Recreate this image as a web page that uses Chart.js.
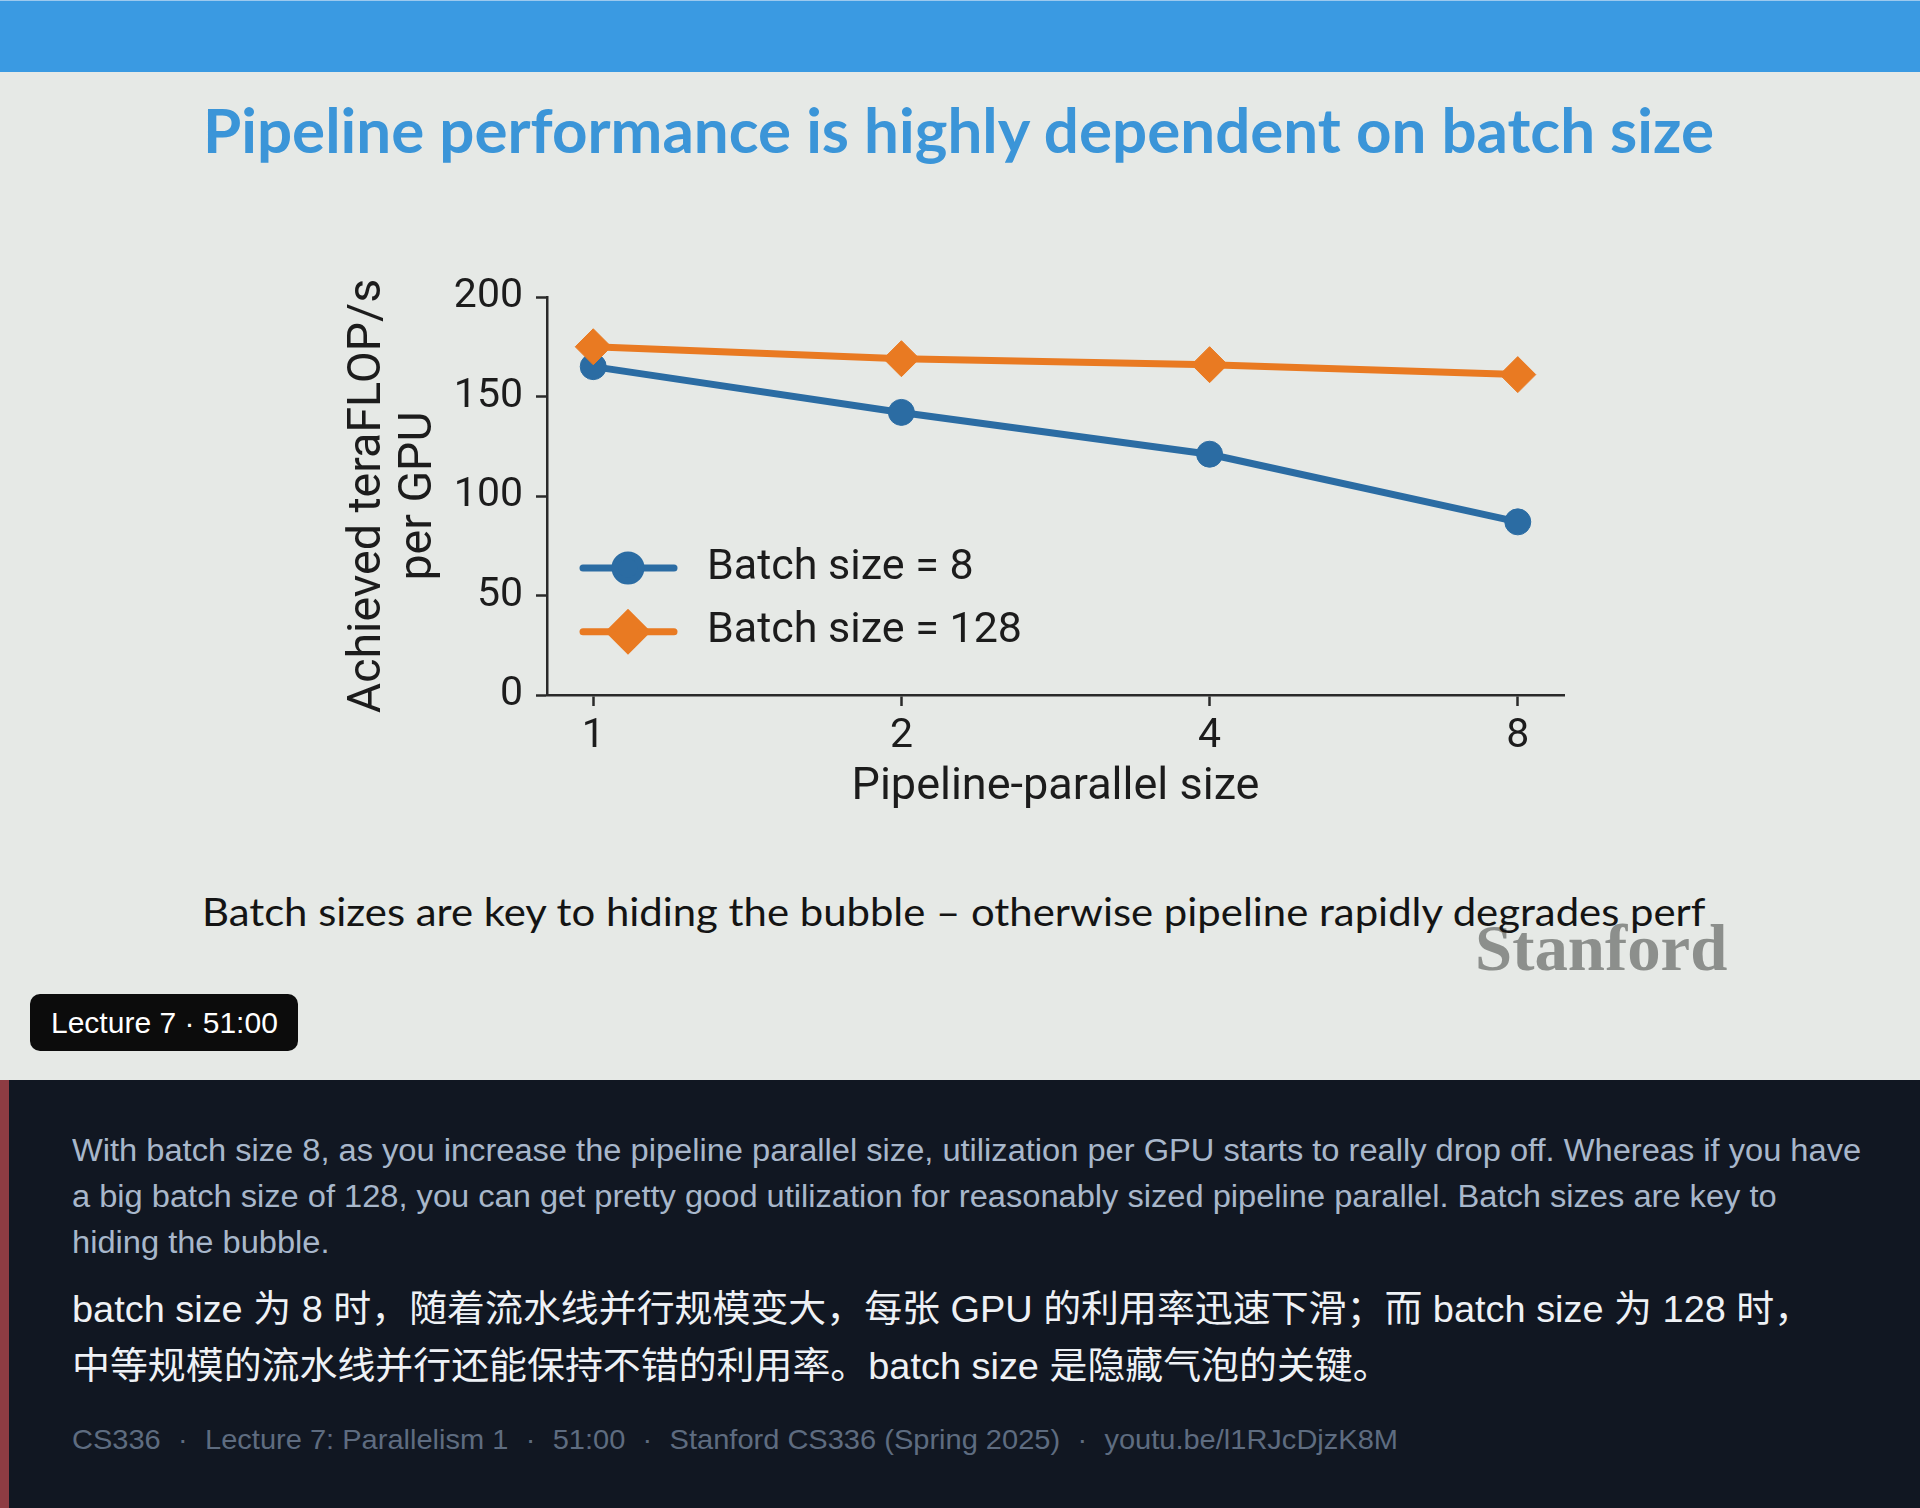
<!DOCTYPE html>
<html>
<head>
<meta charset="utf-8">
<title>Pipeline performance</title>
<script src="https://cdn.jsdelivr.net/npm/chart.js@4.4.1/dist/chart.umd.min.js"></script>
<style>
  html, body { margin: 0; padding: 0; }
  body {
    width: 1920px; height: 1508px; position: relative; overflow: hidden;
    background: #e6e9e6; font-family: "Liberation Sans", Arial, sans-serif;
  }
  .topbar { position: absolute; left: 0; top: 0; width: 1920px; height: 71px; background: #3a9ae2; border-top: 1px solid #9cc9ee; }
  .fit { position: absolute; white-space: nowrap; transform-origin: 0 0; }
  #title { left: 203px; top: 99px; font: bold 61px/61px Lato, sans-serif; color: #3b95d8; }
  #logo { left: 1475px; top: 915px; font: bold 66px/66px "Liberation Serif", serif; color: #8c8f8c; }
  #subtitle { left: 202px; top: 892px; font: 39px/39px Lato, sans-serif; color: #141414; }
  #chartBox { position: absolute; left: 300px; top: 250px; width: 1300px; height: 600px; }
  .badge {
    position: absolute; left: 30px; top: 994px; width: 268px; height: 57px; border-radius: 10px;
    background: #0c0c0c; color: #fff; font: 30px/57px "Liberation Sans", Arial, sans-serif;
    padding-left: 21px; box-sizing: border-box; white-space: nowrap;
  }
  .panel { position: absolute; left: 0; top: 1080px; width: 1920px; height: 428px; background: #111722; border-left: 9px solid #8e3c43; box-sizing: border-box; }
  #en { left: 72px; top: 1128px; font: 31px/46px "Liberation Sans", Arial, sans-serif; color: #a8b7cb; }
  #zh { left: 72px; top: 1281px; font: 37px/57px "Liberation Sans", "Noto Sans CJK SC", sans-serif; color: #eef1f5; }
  #foot { left: 72px; top: 1419px; font: 28.5px/40px "Liberation Sans", Arial, sans-serif; color: #5e6c80; }
  #foot .dot { margin: 0 17px; }
</style>
</head>
<body>
<div class="topbar"></div>
<div id="title" class="fit">Pipeline performance is highly dependent on batch size</div>

<div id="chartBox"><canvas id="chart" width="1300" height="600"></canvas></div>

<div id="logo" class="fit">Stanford</div>
<div id="subtitle" class="fit">Batch sizes are key to hiding the bubble – otherwise pipeline rapidly degrades perf</div>

<div class="badge">Lecture 7 · 51:00</div>

<div class="panel"></div>
<div id="en" class="fit">With batch size 8, as you increase the pipeline parallel size, utilization per GPU starts to really drop off. Whereas if you have<br>a big batch size of 128, you can get pretty good utilization for reasonably sized pipeline parallel. Batch sizes are key to<br>hiding the bubble.</div>
<div id="zh" class="fit">batch size 为 8 时，随着流水线并行规模变大，每张 GPU 的利用率迅速下滑；而 batch size 为 128 时，<br>中等规模的流水线并行还能保持不错的利用率。batch size 是隐藏气泡的关键。</div>
<div id="foot" class="fit">CS336<span class="dot">·</span>Lecture 7: Parallelism 1<span class="dot">·</span>51:00<span class="dot">·</span>Stanford CS336 (Spring 2025)<span class="dot">·</span>youtu.be/l1RJcDjzK8M</div>

<script>
// chart data
const xLabels = ['1', '2', '4', '8'];
const batch8 = [165, 142, 121, 87];
const batch128 = [175, 169, 166, 161];
const yTicks = [0, 50, 100, 150, 200];
const seriesNames = ['Batch size = 8', 'Batch size = 128'];

const BLUE = '#2b6ca3';
const ORANGE = '#e97a22';
const INK = '#1c1c1c';

// squeeze slide text to the width it has on the slide
function fitTo(id, w) {
    const el = document.getElementById(id);
    el.style.transform = 'scaleX(' + (w / el.offsetWidth) + ')';
}
fitTo('title', 1511);
fitTo('subtitle', 1503);
fitTo('logo', 252);
fitTo('en', 1789);
fitTo('zh', 1740);
fitTo('foot', 1326);

// legend drawn inside the plot: line with marker, like matplotlib
const lineLegend = {
    id: 'lineLegend',
    afterDatasetsDraw(chart) {
        const ctx = chart.ctx;
        const area = chart.chartArea;
        const x0 = area.left + 36;
        const y0 = area.top + 271;
        chart.data.datasets.forEach((ds, i) => {
            const y = y0 + i * 63.7;
            ctx.save();
            ctx.strokeStyle = ds.borderColor;
            ctx.lineWidth = ds.borderWidth;
            ctx.lineCap = 'round';
            ctx.beginPath();
            ctx.moveTo(x0, y);
            ctx.lineTo(x0 + 91, y);
            ctx.stroke();
            ctx.fillStyle = ds.pointBackgroundColor;
            ctx.strokeStyle = ds.pointBorderColor;
            Chart.helpers.drawPoint(ctx, {
                pointStyle: ds.pointStyle, radius: ds.pointRadius,
                rotation: 0, borderWidth: ds.pointBorderWidth
            }, x0 + 45, y);
            ctx.fillStyle = INK;
            ctx.font = '43px Roboto';
            ctx.textBaseline = 'middle';
            ctx.textAlign = 'left';
            ctx.fillText(ds.label, x0 + 124, y);
            ctx.restore();
        });
    }
};

Chart.defaults.font.family = 'Roboto';
Chart.defaults.color = INK;

const axisGrid = { drawOnChartArea: false, drawTicks: true, tickLength: 11, tickWidth: 2.5, tickColor: '#2a2a2a' };
const axisBorder = { display: true, color: '#2a2a2a', width: 2.5 };

new Chart(document.getElementById('chart'), {
    type: 'line',
    data: {
        datasets: [
            {
                label: seriesNames[0],
                data: batch8.map((v, i) => ({ x: i, y: v })),
                borderColor: BLUE, backgroundColor: BLUE,
                pointBackgroundColor: BLUE, pointBorderColor: BLUE,
                borderWidth: 7, pointStyle: 'circle', pointRadius: 13, pointBorderWidth: 1,
                borderCapStyle: 'round', borderJoinStyle: 'round',
                order: 1
            },
            {
                label: seriesNames[1],
                data: batch128.map((v, i) => ({ x: i, y: v })),
                borderColor: ORANGE, backgroundColor: ORANGE,
                pointBackgroundColor: ORANGE, pointBorderColor: ORANGE,
                borderWidth: 7, pointStyle: 'rectRot', pointRadius: 18, pointBorderWidth: 1,
                borderCapStyle: 'round', borderJoinStyle: 'round',
                order: 0
            }
        ]
    },
    options: {
        responsive: false,
        animation: false,
        clip: false,
        layout: { padding: { left: 0, top: 47, right: 36, bottom: 35 } },
        plugins: {
            legend: { display: false },
            tooltip: { enabled: false }
        },
        scales: {
            x: {
                type: 'linear',
                min: -0.15,
                max: 3.15,
                afterBuildTicks: s => { s.ticks = xLabels.map((_, i) => ({ value: i })); },
                afterFit: s => { s.height = 120; },
                ticks: {
                    callback: v => xLabels[v],
                    font: { size: 41, lineHeight: 1.2 },
                    color: INK, padding: 6, maxRotation: 0, autoSkip: false
                },
                grid: axisGrid,
                border: axisBorder,
                title: {
                    display: true, text: 'Pipeline-parallel size', color: INK,
                    font: { size: 45, lineHeight: 1.2 }, padding: 0
                }
            },
            y: {
                min: 0,
                max: 200,
                afterBuildTicks: s => { s.ticks = yTicks.map(v => ({ value: v })); },
                afterFit: s => { s.width = 247; },
                ticks: { font: { size: 41, lineHeight: 1.2 }, color: INK, padding: 13 },
                grid: axisGrid,
                border: axisBorder,
                title: {
                    display: true, text: ['Achieved teraFLOP/s', 'per GPU'], color: INK,
                    font: { size: 46.5, lineHeight: 1.1 }, padding: { top: 43, bottom: 0 }
                }
            }
        }
    },
    plugins: [lineLegend]
});
</script>
</body>
</html>
